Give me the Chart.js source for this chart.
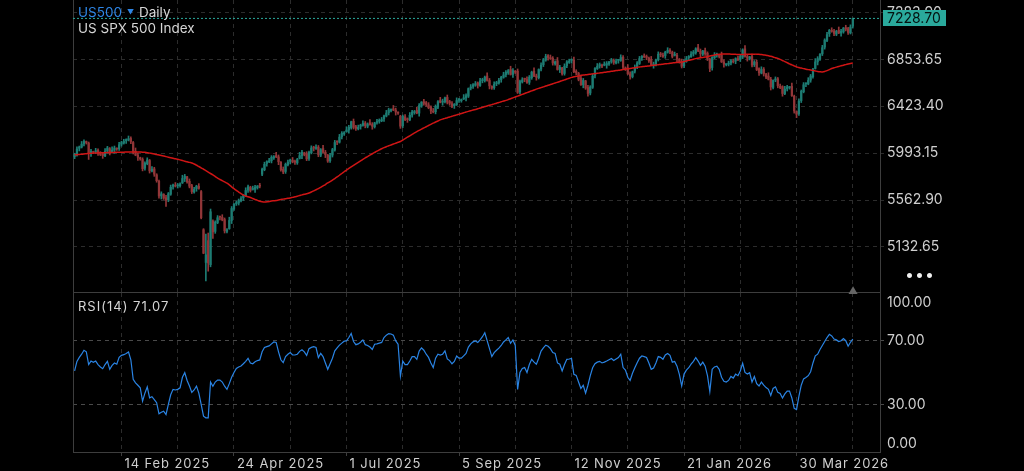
<!DOCTYPE html>
<html>
<head>
<meta charset="utf-8">
<title>US500 Daily</title>
<script src="https://cdn.jsdelivr.net/npm/chart.js@4.4.1/dist/chart.umd.min.js"></script>
<style>
  html, body { margin: 0; padding: 0; background: #000; }
  body { width: 1024px; height: 471px; overflow: hidden; position: relative; font-family: Inter, "Noto Sans", sans-serif; }
  canvas { position: absolute; left: 0; }
  #price { top: 0; }
  #rsi { top: 292px; }
  .txt { position: absolute; white-space: nowrap; color: #d6d6d6; font-size: 13.5px; line-height: 16px; }
</style>
</head>
<body>
<canvas id="price" width="1024" height="293"></canvas>
<canvas id="rsi" width="1024" height="179"></canvas>
<div class="txt" style="left:78px;top:4px"><span style="color:#2e86e6">US500</span><span style="color:#2e86e6;font-size:7px;margin:0 5px 0 5px;vertical-align:2px">▼</span>Daily</div>
<div class="txt" style="left:78px;top:20px">US SPX 500 Index</div>
<div class="txt" id="rsiLbl" style="left:78px;top:298px;font-size:13px;letter-spacing:1px">RSI(14)</div>
<div class="txt" style="left:905px;top:266px;font-size:16px;color:#f0f0f0;letter-spacing:1px">•••</div>
<div class="txt" style="left:848px;top:282px;font-size:10px;color:#666">▲</div>
<script>
// one value per daily bar, bar 0 = mid Jan 2025, last bar = end Apr 2026
const open = [
  5960, 5976, 6038, 6048, 6078, 6094, 6085, 5990, 6005, 6004,
  6020, 5986, 5988, 5968, 6013, 6034, 6000, 6020, 6035, 6034,
  6075, 6086, 6108, 6113, 6128, 6090, 6010, 5975, 5950, 5935,
  5855, 5896, 5925, 5828, 5848, 5794, 5735, 5600, 5615, 5584,
  5565, 5616, 5688, 5698, 5693, 5694, 5720, 5760, 5775, 5734,
  5695, 5636, 5668, 5688, 5640, 5290, 4990, 5190, 4970, 5370,
  5275, 5356, 5408, 5403, 5383, 5274, 5300, 5375, 5480, 5529,
  5535, 5556, 5583, 5603, 5653, 5679, 5660, 5660, 5675, 5694,
  5800, 5841, 5898, 5913, 5923, 5949, 5970, 5958, 5910, 5844,
  5825, 5886, 5918, 5928, 5915, 5904, 5945, 5970, 5995, 5984,
  5945, 5996, 6048, 6036, 6048, 5974, 6035, 6000, 5975, 5924,
  5975, 6021, 6098, 6093, 6143, 6169, 6190, 6205, 6225, 6284,
  6235, 6216, 6238, 6248, 6268, 6239, 6270, 6255, 6235, 6274,
  6285, 6291, 6308, 6333, 6363, 6384, 6400, 6388, 6365, 6330,
  6245, 6326, 6308, 6298, 6343, 6364, 6385, 6360, 6425, 6464,
  6455, 6436, 6418, 6378, 6373, 6414, 6475, 6460, 6465, 6504,
  6465, 6446, 6428, 6438, 6478, 6474, 6490, 6500, 6515, 6589,
  6605, 6616, 6638, 6613, 6658, 6659, 6700, 6660, 6605, 6594,
  6630, 6636, 6668, 6688, 6713, 6729, 6760, 6715, 6745, 6745,
  6555, 6646, 6673, 6668, 6643, 6684, 6745, 6700, 6685, 6764,
  6805, 6846, 6888, 6868, 6863, 6814, 6840, 6760, 6775, 6724,
  6795, 6826, 6843, 6848, 6743, 6724, 6680, 6620, 6655, 6594,
  6545, 6596, 6708, 6768, 6793, 6799, 6800, 6800, 6810, 6834,
  6845, 6821, 6843, 6843, 6873, 6774, 6775, 6720, 6695, 6744,
  6785, 6816, 6868, 6878, 6878, 6864, 6850, 6800, 6805, 6854,
  6905, 6891, 6888, 6918, 6938, 6919, 6890, 6890, 6855, 6834,
  6795, 6836, 6868, 6878, 6903, 6914, 6960, 6930, 6900, 6934,
  6910, 6855, 6778, 6868, 6893, 6889, 6890, 6830, 6805, 6809,
  6820, 6836, 6838, 6858, 6853, 6874, 6950, 6880, 6860, 6879,
  6805, 6826, 6768, 6728, 6763, 6714, 6700, 6670, 6595, 6664,
  6675, 6606, 6603, 6538, 6583, 6594, 6605, 6515, 6375, 6354,
  6475, 6556, 6628, 6628, 6663, 6694, 6770, 6830, 6855, 6904,
  6965, 7026, 7088, 7118, 7113, 7084, 7120, 7095, 7105, 7144,
  7135, 7096, 7158
];
const high = [
  5992, 6050, 6058, 6100, 6115, 6104, 6095, 6028, 6011, 6037,
  6032, 6006, 5996, 6035, 6055, 6044, 6050, 6058, 6041, 6092,
  6102, 6120, 6123, 6150, 6143, 6100, 6040, 5993, 5956, 5950,
  5912, 5950, 5935, 5870, 5863, 5804, 5745, 5638, 5621, 5606,
  5632, 5700, 5708, 5723, 5715, 5720, 5790, 5798, 5781, 5756,
  5707, 5680, 5698, 5713, 5650, 5300, 5250, 5260, 5480, 5380,
  5372, 5420, 5416, 5428, 5398, 5300, 5405, 5503, 5531, 5552,
  5572, 5595, 5613, 5675, 5700, 5689, 5690, 5698, 5696, 5716,
  5855, 5910, 5923, 5945, 5970, 5970, 6000, 5976, 5916, 5866,
  5902, 5930, 5938, 5953, 5930, 5945, 6000, 6018, 6001, 6006,
  6012, 6060, 6056, 6070, 6063, 6035, 6065, 6018, 5981, 5992,
  6037, 6110, 6106, 6165, 6190, 6190, 6235, 6248, 6286, 6306,
  6247, 6250, 6258, 6290, 6283, 6270, 6300, 6273, 6276, 6302,
  6307, 6320, 6343, 6385, 6405, 6400, 6430, 6406, 6371, 6340,
  6342, 6346, 6316, 6365, 6385, 6385, 6415, 6448, 6466, 6486,
  6467, 6456, 6426, 6403, 6435, 6475, 6505, 6488, 6506, 6526,
  6477, 6466, 6448, 6500, 6495, 6490, 6530, 6538, 6591, 6622,
  6632, 6650, 6646, 6680, 6680, 6700, 6730, 6678, 6611, 6647,
  6652, 6680, 6698, 6735, 6750, 6760, 6790, 6768, 6751, 6765,
  6662, 6685, 6681, 6693, 6705, 6745, 6775, 6718, 6766, 6822,
  6862, 6900, 6896, 6893, 6878, 6840, 6870, 6798, 6781, 6812,
  6842, 6855, 6858, 6873, 6758, 6734, 6710, 6678, 6661, 6616,
  6612, 6720, 6778, 6815, 6820, 6809, 6830, 6833, 6836, 6862,
  6857, 6855, 6853, 6895, 6888, 6784, 6805, 6738, 6746, 6802,
  6832, 6880, 6888, 6903, 6893, 6874, 6880, 6828, 6856, 6922,
  6917, 6911, 6928, 6960, 6953, 6929, 6920, 6908, 6861, 6856,
  6852, 6880, 6888, 6925, 6935, 6960, 6990, 6948, 6936, 6956,
  6922, 6865, 6878, 6915, 6910, 6899, 6920, 6848, 6811, 6837,
  6852, 6856, 6868, 6883, 6895, 6950, 6980, 6898, 6881, 6901,
  6842, 6846, 6776, 6785, 6778, 6724, 6730, 6688, 6666, 6692,
  6687, 6626, 6611, 6605, 6615, 6605, 6635, 6525, 6381, 6492,
  6572, 6640, 6638, 6685, 6715, 6770, 6860, 6878, 6906, 6982,
  7042, 7100, 7128, 7143, 7128, 7120, 7150, 7128, 7146, 7166,
  7147, 7170, 7232
];
const low = [
  5942, 5966, 6013, 6040, 6058, 6076, 5935, 5962, 5988, 5988,
  5972, 5970, 5945, 5960, 5993, 5976, 5994, 5992, 6018, 6018,
  6057, 6076, 6083, 6105, 6080, 5985, 5969, 5927, 5928, 5830,
  5837, 5886, 5810, 5820, 5780, 5726, 5580, 5572, 5568, 5505,
  5547, 5606, 5663, 5682, 5673, 5680, 5714, 5732, 5718, 5674,
  5622, 5626, 5643, 5662, 5390, 5070, 4820, 4910, 4950, 5210,
  5257, 5346, 5380, 5372, 5260, 5260, 5294, 5347, 5468, 5513,
  5517, 5546, 5558, 5595, 5633, 5636, 5654, 5632, 5663, 5674,
  5785, 5831, 5873, 5905, 5903, 5935, 5952, 5887, 5828, 5804,
  5807, 5876, 5893, 5904, 5890, 5890, 5939, 5942, 5968, 5924,
  5927, 5986, 6013, 6028, 5960, 5960, 5994, 5952, 5908, 5908,
  5957, 6011, 6070, 6085, 6123, 6155, 6184, 6177, 6213, 6214,
  6202, 6206, 6213, 6240, 6225, 6225, 6249, 6212, 6223, 6258,
  6267, 6281, 6283, 6325, 6343, 6370, 6382, 6342, 6348, 6220,
  6227, 6290, 6275, 6290, 6323, 6350, 6354, 6332, 6413, 6434,
  6422, 6400, 6355, 6362, 6353, 6400, 6454, 6432, 6453, 6444,
  6432, 6410, 6403, 6430, 6458, 6460, 6484, 6472, 6503, 6573,
  6587, 6606, 6590, 6605, 6638, 6645, 6654, 6582, 6578, 6578,
  6612, 6626, 6643, 6680, 6693, 6715, 6709, 6687, 6723, 6540,
  6537, 6636, 6648, 6632, 6623, 6670, 6694, 6662, 6673, 6748,
  6787, 6836, 6845, 6852, 6800, 6800, 6754, 6732, 6708, 6708,
  6777, 6816, 6818, 6732, 6710, 6656, 6614, 6592, 6578, 6515,
  6527, 6586, 6683, 6760, 6773, 6776, 6794, 6772, 6798, 6818,
  6807, 6811, 6818, 6835, 6760, 6751, 6714, 6672, 6683, 6728,
  6767, 6806, 6843, 6870, 6850, 6826, 6794, 6772, 6793, 6838,
  6877, 6870, 6863, 6910, 6905, 6866, 6884, 6832, 6818, 6774,
  6777, 6826, 6843, 6870, 6883, 6900, 6924, 6877, 6888, 6889,
  6842, 6740, 6753, 6860, 6873, 6866, 6824, 6782, 6793, 6793,
  6802, 6820, 6813, 6842, 6833, 6860, 6874, 6837, 6848, 6784,
  6787, 6750, 6705, 6720, 6700, 6676, 6664, 6572, 6583, 6648,
  6592, 6585, 6515, 6530, 6563, 6580, 6514, 6360, 6318, 6338,
  6457, 6546, 6603, 6620, 6643, 6680, 6764, 6802, 6843, 6888,
  6947, 7016, 7063, 7102, 7070, 7070, 7089, 7067, 7093, 7114,
  7082, 7086, 7140
];
const close = [
  5980, 6030, 6050, 6075, 6100, 6090, 5990, 6010, 6000, 6015,
  5990, 5980, 5970, 6010, 6040, 5990, 6020, 6040, 6030, 6070,
  6090, 6100, 6115, 6125, 6100, 6000, 5975, 5955, 5940, 5850,
  5900, 5930, 5830, 5845, 5800, 5740, 5600, 5620, 5580, 5560,
  5620, 5680, 5700, 5690, 5700, 5710, 5760, 5780, 5730, 5690,
  5640, 5660, 5690, 5670, 5400, 5075, 5060, 4985, 5455, 5270,
  5360, 5400, 5405, 5380, 5280, 5290, 5375, 5485, 5525, 5530,
  5560, 5575, 5605, 5650, 5685, 5650, 5660, 5680, 5690, 5690,
  5845, 5890, 5915, 5920, 5955, 5960, 5958, 5915, 5840, 5820,
  5890, 5910, 5930, 5912, 5910, 5935, 5970, 6000, 5980, 5940,
  6000, 6040, 6038, 6045, 5980, 6025, 6000, 5980, 5920, 5970,
  6025, 6090, 6095, 6140, 6175, 6180, 6205, 6230, 6280, 6230,
  6220, 6230, 6250, 6265, 6245, 6260, 6255, 6240, 6270, 6280,
  6295, 6300, 6335, 6360, 6390, 6390, 6388, 6370, 6360, 6240,
  6330, 6300, 6300, 6340, 6370, 6375, 6360, 6430, 6460, 6450,
  6440, 6410, 6380, 6370, 6420, 6465, 6460, 6470, 6500, 6460,
  6450, 6420, 6440, 6475, 6480, 6480, 6500, 6520, 6585, 6600,
  6620, 6630, 6615, 6655, 6665, 6690, 6660, 6610, 6590, 6625,
  6640, 6660, 6690, 6710, 6735, 6750, 6715, 6750, 6735, 6550,
  6650, 6665, 6670, 6640, 6690, 6735, 6700, 6690, 6760, 6800,
  6850, 6880, 6870, 6860, 6820, 6830, 6760, 6780, 6720, 6790,
  6830, 6835, 6850, 6740, 6730, 6670, 6620, 6660, 6590, 6540,
  6600, 6700, 6770, 6790, 6805, 6790, 6800, 6815, 6830, 6840,
  6825, 6835, 6845, 6870, 6780, 6765, 6720, 6700, 6740, 6780,
  6820, 6860, 6880, 6875, 6870, 6840, 6800, 6810, 6850, 6900,
  6895, 6880, 6920, 6935, 6925, 6880, 6890, 6860, 6830, 6790,
  6840, 6860, 6880, 6900, 6920, 6950, 6930, 6905, 6930, 6905,
  6860, 6770, 6870, 6890, 6895, 6880, 6830, 6810, 6805, 6815,
  6840, 6830, 6860, 6850, 6880, 6940, 6880, 6865, 6875, 6800,
  6830, 6760, 6730, 6760, 6720, 6690, 6670, 6600, 6660, 6670,
  6610, 6595, 6540, 6580, 6600, 6595, 6520, 6380, 6350, 6470,
  6560, 6620, 6630, 6660, 6700, 6760, 6830, 6860, 6900, 6960,
  7030, 7080, 7120, 7110, 7090, 7110, 7095, 7110, 7140, 7130,
  7100, 7150, 7228.70
];
// red moving average line
const ma = [
  5977, 5979, 5981, 5983, 5985, 5988, 5990, 5992, 5994, 5995,
  5995, 5996, 5997, 5997, 5998, 5999, 5999, 6000, 6001, 6001,
  6002, 6002, 6003, 6004, 6004, 6004, 6004, 6004, 6003, 6002,
  6000, 5997, 5993, 5989, 5985, 5981, 5976, 5971, 5966, 5961,
  5956, 5951, 5946, 5941, 5937, 5931, 5925, 5919, 5913, 5908,
  5903, 5893, 5882, 5870, 5858, 5845, 5832, 5819, 5806, 5793,
  5778, 5763, 5751, 5740, 5729, 5718, 5702, 5684, 5667, 5651,
  5636, 5621, 5607, 5599, 5592, 5586, 5577, 5568, 5559, 5551,
  5546, 5544, 5546, 5549, 5553, 5556, 5559, 5563, 5567, 5571,
  5575, 5578, 5582, 5587, 5592, 5598, 5604, 5610, 5615, 5621,
  5627, 5636, 5646, 5657, 5668, 5679, 5692, 5705, 5719, 5732,
  5745, 5760, 5775, 5790, 5806, 5822, 5838, 5852, 5866, 5880,
  5894, 5908, 5922, 5936, 5949, 5961, 5974, 5987, 5999, 6011,
  6022, 6033, 6043, 6052, 6060, 6068, 6076, 6084, 6092, 6100,
  6113, 6126, 6139, 6152, 6165, 6178, 6190, 6202, 6213, 6224,
  6235, 6246, 6257, 6268, 6278, 6288, 6298, 6305, 6312, 6318,
  6325, 6331, 6338, 6344, 6351, 6357, 6363, 6370, 6376, 6382,
  6388, 6394, 6400, 6407, 6413, 6420, 6426, 6432, 6438, 6445,
  6451, 6458, 6464, 6471, 6477, 6484, 6492, 6500, 6508, 6516,
  6524, 6532, 6540, 6548, 6556, 6564, 6572, 6580, 6587, 6594,
  6601, 6608, 6615, 6622, 6629, 6636, 6643, 6650, 6658, 6665,
  6673, 6680, 6688, 6693, 6697, 6701, 6705, 6709, 6712, 6714,
  6717, 6720, 6723, 6725, 6728, 6731, 6734, 6737, 6740, 6743,
  6746, 6750, 6753, 6756, 6760, 6763, 6766, 6770, 6773, 6776,
  6780, 6783, 6786, 6788, 6791, 6793, 6796, 6799, 6801, 6804,
  6806, 6809, 6812, 6814, 6817, 6820, 6822, 6825, 6827, 6829,
  6834, 6839, 6844, 6849, 6855, 6860, 6864, 6868, 6871, 6874,
  6878, 6883, 6888, 6893, 6897, 6900, 6901, 6902, 6902, 6902,
  6901, 6900, 6899, 6898, 6898, 6898, 6899, 6900, 6900, 6901,
  6901, 6901, 6899, 6897, 6894, 6891, 6886, 6881, 6875, 6868,
  6862, 6853, 6843, 6833, 6822, 6812, 6802, 6793, 6784, 6778,
  6773, 6768, 6763, 6759, 6756, 6752, 6747, 6742, 6739, 6738,
  6742, 6750, 6759, 6769, 6776, 6782, 6788, 6794, 6800, 6805,
  6810, 6815, 6820
];
// RSI(14)
const rsi = [
  51, 57, 59.5, 61.5, 64, 63, 55, 57.2, 56.4, 57.2,
  55, 53.5, 52.4, 55, 57, 52, 54.5, 56, 55.2, 59.5,
  60.8, 61.2, 62, 62.9, 58, 45.7, 43.5, 42, 40.4, 32,
  37, 41, 34.1, 34.8, 33, 31, 24, 25, 25.7, 23.6,
  30, 36, 39.4, 39, 39.4, 40.4, 47, 49.9, 45, 41.5,
  37.5, 39, 41.4, 37, 30, 22.5, 21.5, 21.5, 44, 41.4,
  44, 45.2, 45.2, 44, 41.4, 39.4, 43, 47, 50, 52.6,
  53.5, 54.1, 55.5, 57, 58.9, 56, 55.5, 56.8, 57.5, 57.9,
  63, 65.7, 66.3, 66.7, 68, 69.2, 68.9, 63, 58, 56.2,
  60, 61.5, 62.5, 61, 61, 61.5, 63.3, 64.3, 63, 60.8,
  65, 65.8, 66.2, 65.7, 59.4, 62, 60, 56, 52, 55.5,
  59, 63.6, 65.5, 67.2, 68.5, 69.7, 69.9, 72, 74.5, 69.5,
  67.5, 68, 69, 70.5, 67.5, 67, 66, 64.5, 67.8, 68,
  68.5, 68.9, 72, 73.5, 74.5, 74.2, 73.5, 69.9, 67.8, 47.8,
  57.2, 55, 55, 57.2, 60, 60, 58.3, 63.5, 65.5, 64,
  61.5, 59.5, 56, 53.1, 59, 61.5, 61, 61.5, 63.6, 58.5,
  57.5, 55.5, 57, 60.4, 59, 59, 60.5, 62, 66, 68,
  69.3, 69.8, 68.9, 70.5, 72.5, 75, 70, 65, 60, 62.5,
  64, 65.3, 67, 69.2, 70.5, 72, 68.4, 70.5, 67, 39.4,
  50, 52.5, 53.1, 50, 55, 58.3, 56.5, 55.2, 59, 63.5,
  65.5, 67.2, 66.5, 65, 62.5, 62, 56, 55.2, 51, 55,
  58.3, 58.5, 58.8, 48.8, 48.2, 44, 40, 42, 37, 42,
  48, 53, 55.5, 56.5, 57, 56, 56.5, 57.2, 58, 58.8,
  57.5, 58.5, 59.4, 61.5, 53.1, 51.5, 47, 45, 49.5, 53,
  56.2, 59, 60.4, 60, 59.4, 56, 52, 52.8, 56, 60,
  59.5, 58.3, 61, 62, 60.8, 56.5, 57, 54, 48.8, 41.5,
  49, 51.5, 53, 55.2, 57, 59.4, 57.2, 54.5, 56.5, 54,
  48, 38, 52, 53.5, 54, 52, 47, 44.5, 44, 45,
  47.5, 46.5, 49, 48, 51, 55.8, 50, 49, 49.9, 44,
  47.5, 43, 41.5, 44, 42, 40.5, 39.4, 35.5, 40, 41,
  37.5, 36.8, 34, 36.5, 38.3, 38.3, 34, 27.5, 26.7, 35,
  42, 46, 46.8, 48, 50.5, 56, 60.5, 61.5, 64.5, 67,
  69.5, 72, 74, 73, 71, 70.5, 69.5, 70, 71.4, 70,
  66.5, 69, 71.07
];

const priceTicks = [5132.65, 5562.90, 5993.15, 6423.40, 6853.65, 7283.90];
const rsiLevels = [30, 70];
const dateLabels = ['14 Feb 2025', '24 Apr 2025', '1 Jul 2025', '5 Sep 2025', '12 Nov 2025', '21 Jan 2026', '30 Mar 2026'];
const dateBars = [20, 68, 116, 164, 212, 260, 308];   // bar of each labelled date
const midBars = [44, 92, 140, 188, 236, 284, 332];    // unlabelled grid lines

const X_MIN = -0.68, X_MAX = 343.6;
const Y_MIN = 4718.9, Y_MAX = 7397.7;
const GRID = '#2c2c2c', FRAME = '#3d3d3d', TEXT = '#cfcfcf';
const UP = '#1d7c73', DOWN = '#923638', TEAL = '#2aa99c';
const FONT = 'Inter, "Noto Sans", sans-serif';

Chart.defaults.font.family = FONT;
Chart.defaults.color = TEXT;

const gridBars = dateBars.concat(midBars).sort((a, b) => a - b);
const candleColors = close.map((c, i) => c >= open[i] ? UP : DOWN);
const last = close[close.length - 1];
document.getElementById('rsiLbl').textContent = 'RSI(14) ' + rsi[rsi.length - 1].toFixed(2);

function xAxis(withLabels) {
  return {
    type: 'linear', min: X_MIN, max: X_MAX, offset: false,
    afterBuildTicks: s => { s.ticks = gridBars.map(v => ({ value: v })); },
    afterFit: s => { s.height = withLabels ? 19 : 1; s.paddingLeft = 0; s.paddingRight = 0; },
    grid: {
      color: GRID, offset: false, drawTicks: withLabels, tickLength: 4,
      tickColor: c => (c.tick && dateBars.includes(c.tick.value)) ? FRAME : 'rgba(0,0,0,0)'
    },
    border: { color: FRAME, dash: [4, 4] },
    ticks: {
      display: withLabels, autoSkip: false, maxRotation: 0, align: 'start', labelOffset: 3, padding: 0,
      z: 1, font: { size: 13 },
      callback: v => { const k = dateBars.indexOf(v); return k < 0 ? '' : dateLabels[k]; }
    }
  };
}

function rightAxis(min, max, values, gridColor) {
  return {
    position: 'right', min: min, max: max,
    afterBuildTicks: s => { s.ticks = values.map(v => ({ value: v })); },
    afterFit: s => { s.width = 144; s.paddingTop = 0; s.paddingBottom = 0; },
    grid: { color: gridColor, tickLength: 5, tickColor: gridColor, tickBorderDash: [3, 3] },
    border: { color: FRAME, dash: [4, 4] },
    ticks: { padding: 2, font: { size: 14 }, callback: v => v.toFixed(2) }
  };
}

const leftFrame = {
  position: 'left', grid: { display: false }, ticks: { display: false }, border: { color: FRAME },
  afterFit: s => { s.width = 0; s.paddingTop = 0; s.paddingBottom = 0; }
};

const lastPriceTag = {
  id: 'lastPriceTag',
  afterDraw(chart) {
    const { ctx, chartArea } = chart;
    const y = chart.scales.y.getPixelForValue(last);
    ctx.save();
    ctx.fillStyle = TEAL;
    ctx.fillRect(chartArea.right + 3, Math.round(y) - 8, 63, 16);
    ctx.fillStyle = '#04110f';
    ctx.font = '14px ' + FONT;
    ctx.textBaseline = 'middle';
    ctx.fillText(last.toFixed(2), chartArea.right + 7, y + 0.5);
    ctx.restore();
  }
};

// date labels (drawn after the datasets, z: 1) use a wider letter spacing
const dateSpacing = {
  id: 'dateSpacing',
  afterDatasetsDraw(chart) { chart.ctx.letterSpacing = '0.9px'; },
  afterDraw(chart) { chart.ctx.letterSpacing = '0px'; }
};

const rsiEdgeLabels = {
  id: 'rsiEdgeLabels',
  afterDraw(chart) {
    const { ctx, chartArea } = chart;
    const s = chart.scales.y;
    ctx.save();
    ctx.letterSpacing = '0px';
    ctx.fillStyle = TEXT;
    ctx.font = '14px ' + FONT;
    ctx.textBaseline = 'middle';
    ctx.fillText('100.00', chartArea.right + 7, s.getPixelForValue(100) + 9.5);
    ctx.fillText('0.00', chartArea.right + 7, s.getPixelForValue(0) - 8.5);
    ctx.restore();
  }
};

new Chart(document.getElementById('price'), {
  type: 'bar',
  data: {
    datasets: [
      {
        type: 'line', data: [{ x: X_MIN, y: last }, { x: X_MAX, y: last }],
        borderColor: TEAL, borderWidth: 1, borderDash: [2, 2], pointRadius: 0, order: -1
      },
      {
        type: 'line', data: ma.map((v, i) => ({ x: i, y: v })),
        borderColor: '#cf1515', borderWidth: 1.5, pointRadius: 0, tension: 0.4, order: 0
      },
      {
        data: open.map((o, i) => ({ x: i, y: [o, close[i]] })),
        backgroundColor: candleColors, barThickness: 1.6, minBarLength: 1, grouped: false, order: 1
      },
      {
        data: low.map((l, i) => ({ x: i, y: [l, high[i]] })),
        backgroundColor: candleColors, barThickness: 1, grouped: false, order: 2
      }
    ]
  },
  options: {
    responsive: false, animation: false, events: [],
    layout: { padding: { left: 73, right: 0, top: 0, bottom: 0 } },
    plugins: { legend: { display: false }, tooltip: { enabled: false } },
    scales: {
      x: xAxis(false),
      y: rightAxis(Y_MIN, Y_MAX, priceTicks, GRID),
      yl: leftFrame
    }
  },
  plugins: [lastPriceTag]
});

new Chart(document.getElementById('rsi'), {
  type: 'line',
  data: {
    datasets: [{
      data: rsi.map((v, i) => ({ x: i, y: v })),
      borderColor: '#2a84e4', borderWidth: 1.2, pointRadius: 0, tension: 0
    }]
  },
  options: {
    responsive: false, animation: false, events: [],
    layout: { padding: { left: 73, right: 0, top: 1, bottom: 0 } },
    plugins: { legend: { display: false }, tooltip: { enabled: false } },
    scales: {
      x: xAxis(true),
      y: rightAxis(0, 100, rsiLevels, '#4a4a4a'),
      yl: leftFrame
    }
  },
  plugins: [dateSpacing, rsiEdgeLabels]
});
</script>
</body>
</html>
